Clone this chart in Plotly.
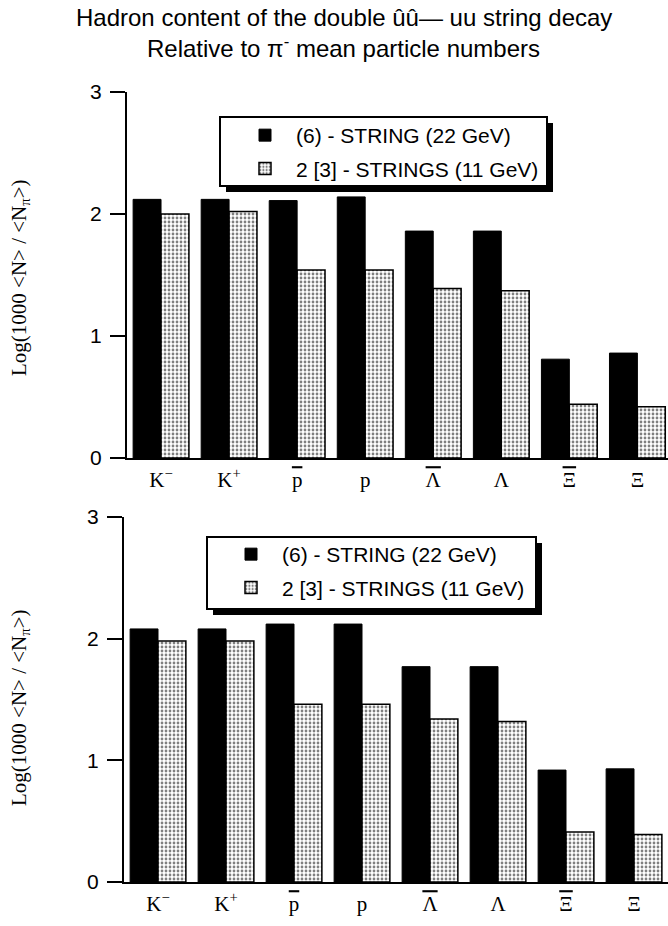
import plotly.graph_objects as go

# ---------------- data ----------------
BAR = '<span style="text-decoration:overline">{}</span>'
categories = ["K<sup>−</sup>", "K<sup>+</sup>", BAR.format("p"), "p",
              BAR.format("Λ"), "Λ", BAR.format("Ξ"), "Ξ"]
series_names = ["(6) - STRING (22 GeV)", "2 [3] - STRINGS (11 GeV)"]
top_string = [2.12, 2.12, 2.11, 2.14, 1.86, 1.86, 0.81, 0.86]
top_strings = [2.00, 2.02, 1.54, 1.54, 1.39, 1.37, 0.44, 0.42]
bottom_string = [2.08, 2.08, 2.12, 2.12, 1.77, 1.77, 0.92, 0.93]
bottom_strings = [1.98, 1.98, 1.46, 1.46, 1.34, 1.32, 0.41, 0.39]
y_ticks = [0, 1, 2, 3]

# ---------------- layout helpers ----------------
W, H = 668, 926


def px(x):
    return x / W


def py(y):
    return 1 - y / H


SANS = "Liberation Sans, Arial, sans-serif"
SERIF = "Liberation Serif, Times New Roman, serif"

solid = dict(color="black", line=dict(color="black", width=1))
stipple = dict(
    color="white",
    line=dict(color="black", width=1.5),
    pattern=dict(shape=".", fgcolor="black", bgcolor="white", size=4, solidity=0.38),
)

fig = go.Figure()
fig.add_trace(go.Bar(x=categories, y=top_string, name=series_names[0], marker=solid,
                     xaxis="x", yaxis="y", legend="legend", legendgroup="t1"))
fig.add_trace(go.Bar(x=categories, y=top_strings, name=series_names[1], marker=stipple,
                     xaxis="x", yaxis="y", legend="legend", legendgroup="t2"))
fig.add_trace(go.Bar(x=categories, y=bottom_string, name=series_names[0], marker=solid,
                     xaxis="x2", yaxis="y2", legend="legend2", legendgroup="b1"))
fig.add_trace(go.Bar(x=categories, y=bottom_strings, name=series_names[1], marker=stipple,
                     xaxis="x2", yaxis="y2", legend="legend2", legendgroup="b2"))

xcommon = dict(
    type="category", showline=True, linecolor="black", linewidth=2, ticks="",
    showgrid=False, zeroline=False, ticklabelstandoff=2, automargin=False,
    tickfont=dict(family=SERIF, size=21, color="black"), fixedrange=True,
)
ycommon = dict(
    range=[0, 3], tickvals=y_ticks, showline=True, linecolor="black", linewidth=2,
    ticks="outside", ticklen=15, tickwidth=2, tickcolor="black", showgrid=False,
    zeroline=False, ticklabelstandoff=4, automargin=False,
    tickfont=dict(family=SANS, size=21, color="black"),
)

legend_common = dict(
    xanchor="left", yanchor="top", bgcolor="rgba(0,0,0,0)", borderwidth=0,
    font=dict(family=SANS, size=21, color="black"), itemwidth=52,
    tracegroupgap=3, traceorder="grouped",
)

shapes = []
for (x0, y0, x1, y1) in [(220, 117, 547, 186), (207, 537, 536, 609)]:
    shapes.append(dict(type="rect", xref="paper", yref="paper",
                       x0=px(x0 + 6), x1=px(x1 + 6), y0=py(y1 + 6), y1=py(y0 + 6),
                       fillcolor="black", line=dict(width=0), layer="above"))
    shapes.append(dict(type="rect", xref="paper", yref="paper",
                       x0=px(x0), x1=px(x1), y0=py(y1), y1=py(y0),
                       fillcolor="white", line=dict(color="black", width=2), layer="above"))

ytitle = "Log(1000 &lt;N&gt; / &lt;N<sub>π</sub>&gt;)"
title_lines = ["Hadron content of the double ûû— uu string decay",
               "Relative to π<sup>-</sup> mean particle numbers"]

annotations = []
for text, yc in zip(title_lines, [17, 47]):
    annotations.append(dict(text=text, x=px(344), y=py(yc), xref="paper", yref="paper",
                            xanchor="center", yanchor="middle", showarrow=False,
                            font=dict(family=SANS, size=24, color="black")))
for yc, xc in [(278, 20), (708, 20)]:
    annotations.append(dict(text=ytitle, textangle=-90, x=px(xc), y=py(yc),
                            xref="paper", yref="paper", xanchor="center", yanchor="middle",
                            showarrow=False, font=dict(family=SERIF, size=21, color="black")))

fig.update_layout(
    width=W, height=H,
    margin=dict(l=0, r=0, t=0, b=0, autoexpand=False),
    paper_bgcolor="white", plot_bgcolor="white",
    barmode="group", bargap=0.18, bargroupgap=0,
    xaxis=dict(domain=[px(127), 1], range=[-0.5, 7.45], anchor="y", **xcommon),
    yaxis=dict(domain=[py(458), py(92)], anchor="x", **ycommon),
    xaxis2=dict(domain=[px(124), 1], range=[-0.5, 7.5], anchor="y2", **xcommon),
    yaxis2=dict(domain=[py(882), py(517)], anchor="x2", **ycommon),
    legend=dict(x=px(234), y=py(115), **legend_common),
    legend2=dict(x=px(220), y=py(534), **legend_common),
    shapes=shapes,
    annotations=annotations,
    showlegend=True,
)

fig.write_html("out.html", config={"displayModeBar": False},
               post_script="document.body.style.margin='0';")
